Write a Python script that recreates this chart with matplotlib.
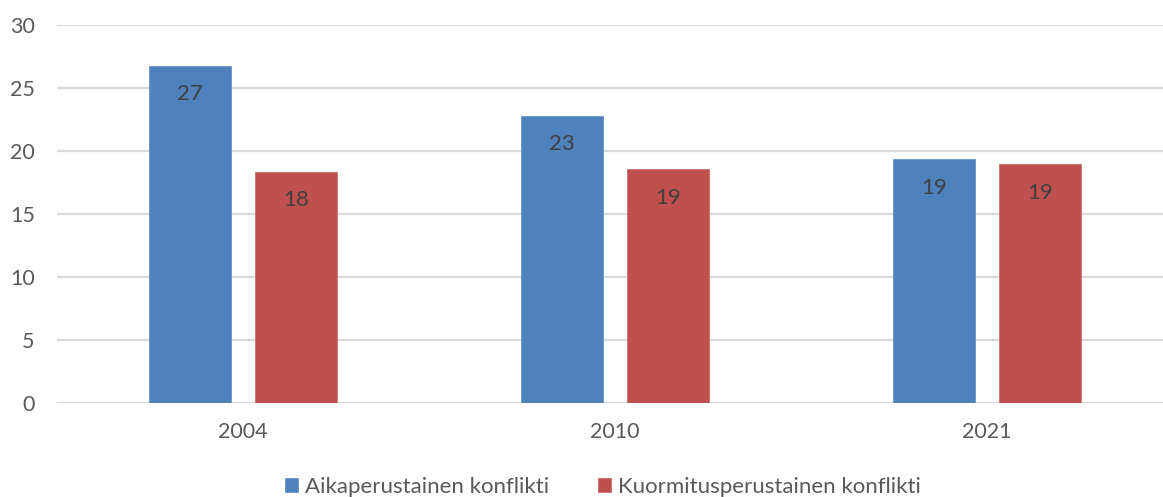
import matplotlib
matplotlib.use("Agg")
import matplotlib.pyplot as plt
import numpy as np

plt.rcParams['font.family'] = ['Lato', 'DejaVu Sans']

years = ['2004', '2010', '2021']
aika = [26.75, 22.8, 19.35]
kuormitus = [18.35, 18.55, 18.95]
series_names = ['Aikaperustainen konflikti', 'Kuormitusperustainen konflikti']
colors = ['#4F81BD', '#C0504D']

W, H = 1163, 497
fig = plt.figure(figsize=(W / 100, H / 100), dpi=100)
ax = fig.add_axes([57 / W, (H - 403) / H, (W - 57) / W, 378 / H])

x = np.arange(len(years))
bw = 0.223
off = 0.1425
b1 = ax.bar(x - off, aika, bw, color=colors[0], edgecolor='#6C95C8', linewidth=0.6,
            label=series_names[0], zorder=3)
b2 = ax.bar(x + off, kuormitus, bw, color=colors[1], edgecolor='#CC6E6B', linewidth=0.6,
            label=series_names[1], zorder=3)

for bars, vals in ((b1, aika), (b2, kuormitus)):
    for r, v in zip(bars, vals):
        ax.annotate(f'{v:.0f}', (r.get_x() + r.get_width() / 2, v), xytext=(0, -20.5),
                    textcoords='offset points', ha='center', va='center',
                    fontsize=16, color='#404040', zorder=4)

ax.set_xlim(-0.5, (W - 57) / 372 - 0.5)
ax.set_ylim(0, 30)
ax.set_yticks(range(0, 31, 5))
ax.set_xticks(x)
ax.set_xticklabels(years)
ax.yaxis.grid(True, color='#D9D9D9', linewidth=1.6, zorder=0)
ax.set_axisbelow(True)
for s in ax.spines.values():
    s.set_visible(False)
ax.tick_params(length=0, labelsize=15.5, labelcolor='#595959')
ax.tick_params(axis='y', pad=16)
ax.tick_params(axis='x', pad=14)

fig.legend(handles=[b1, b2], labels=series_names, loc='center', bbox_to_anchor=(603 / W, 1 - 487 / H),
           ncol=2, frameon=False, fontsize=16, handlelength=0.6, handleheight=0.6,
           handletextpad=0.3, columnspacing=2.2, labelcolor='#595959')

fig.savefig('out.png', dpi=100)
